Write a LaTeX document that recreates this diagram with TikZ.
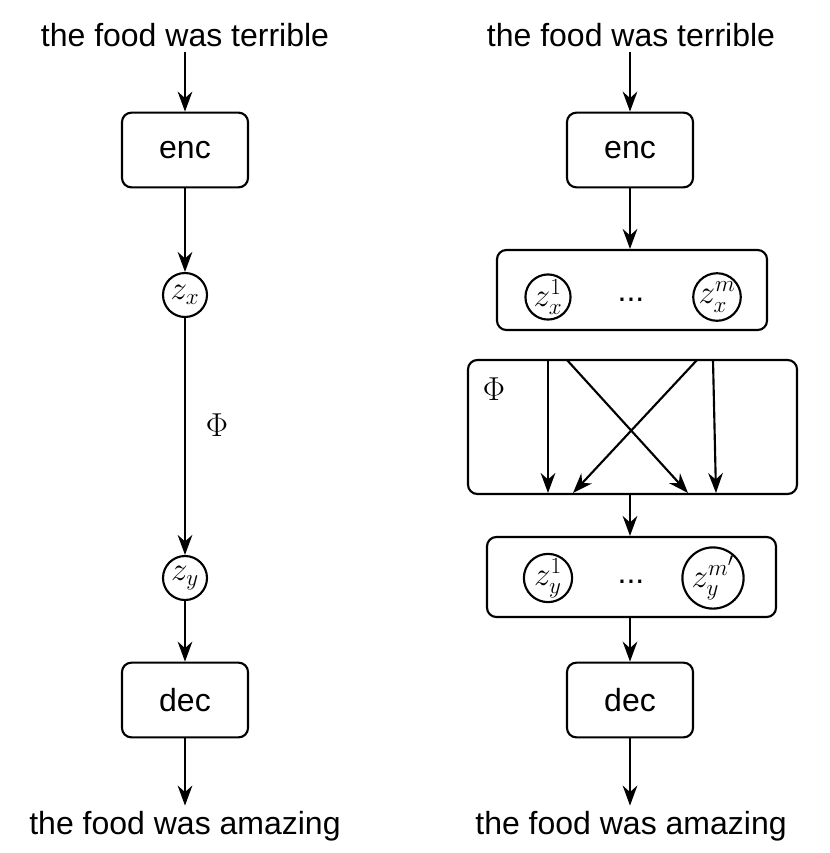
\documentclass[tikz,border=0pt]{standalone}
\usepackage{fontspec}
\setmainfont{Liberation Sans}
\usetikzlibrary{arrows.meta}
\begin{document}
\begin{tikzpicture}[x=0.75pt,y=-0.75pt,line width=1.6pt,
  font=\fontsize{24}{28}\selectfont,
  arr/.style={-{Stealth[length=15pt,width=11pt]}},
  box/.style={draw,rounded corners=7pt,minimum width=94.5pt,minimum height=56pt,inner sep=0pt},
  circ/.style={draw,circle,minimum size=33pt,inner sep=0pt,font=\fontsize{27}{30}\selectfont},
  wide/.style={draw,rounded corners=7pt,inner sep=0pt}]
\useasboundingbox (0,0) rectangle (830,853);
% left
\node (lt) at (185,35) {the food was terrible};
\node[box] (lenc) at (185,150) {enc};
\node[circ] (lzx) at (185,295) {$z_x$};
\node[circ] (lzy) at (185,578) {$z_y$};
\node[box] (ldec) at (185,700) {dec};
\node (lb) at (185,826) {the food was amazing};
\node[font=\fontsize{27}{30}\selectfont] (lphi) at (217,425) {$\Phi$};
\draw[arr] (lt.south) -- (lenc.north);
\draw[arr] (lenc) -- (lzx);
\draw[arr] (lzx) -- (lzy);
\draw[arr] (lzy) -- (ldec);
\draw[arr] (ldec.south) -- (lb.north);
% right
\node (rt) at (631,35) {the food was terrible};
\node[box] (renc) at (630,150) {enc};
\node[wide,minimum width=202.5pt,minimum height=60pt] (rzxb) at (632,290) {};
\node[circ] (zx1) at (548,297) {$z_x^1$};
\node[circ] (zxm) at (717,297) {$z_x^m$};
\node at (631,300) {...};
\node[wide,minimum width=246.75pt,minimum height=100.5pt] (phib) at (632.5,427) {};
\node[font=\fontsize{27}{30}\selectfont] at (494,389) {$\Phi$};
\node[wide,minimum width=216.75pt,minimum height=60pt] (rzyb) at (631.5,577) {};
\node[circ] (zy1) at (548,578) {$z_y^1$};
\node[circ] (zym) at (713,578) {$z_y^{m'}$};
\node at (631,582) {...};
\node[box] (rdec) at (630,700) {dec};
\node (rb) at (631,826) {the food was amazing};
\draw[arr] (rt.south -| renc) -- (renc.north);
\draw[arr] (renc) -- (rzxb.north -| renc);
\draw[arr] (phib.south -| renc) -- (rzyb.north -| renc);
\draw[arr] (rzyb.south -| rdec) -- (rdec.north);
\draw[arr] (rdec.south) -- (rb.north -| rdec);
\coordinate (s1) at (548,360); \coordinate (e1) at (548,493);
\coordinate (s2) at (567,360); \coordinate (e2) at (688,493);
\coordinate (s3) at (697,360); \coordinate (e3) at (573,493);
\coordinate (s4) at (713,360); \coordinate (e4) at (716,493);
\draw[arr] (s1) -- (e1);
\draw[arr] (s2) -- (e2);
\draw[arr] (s3) -- (e3);
\draw[arr] (s4) -- (e4);
\end{tikzpicture}
\end{document}
